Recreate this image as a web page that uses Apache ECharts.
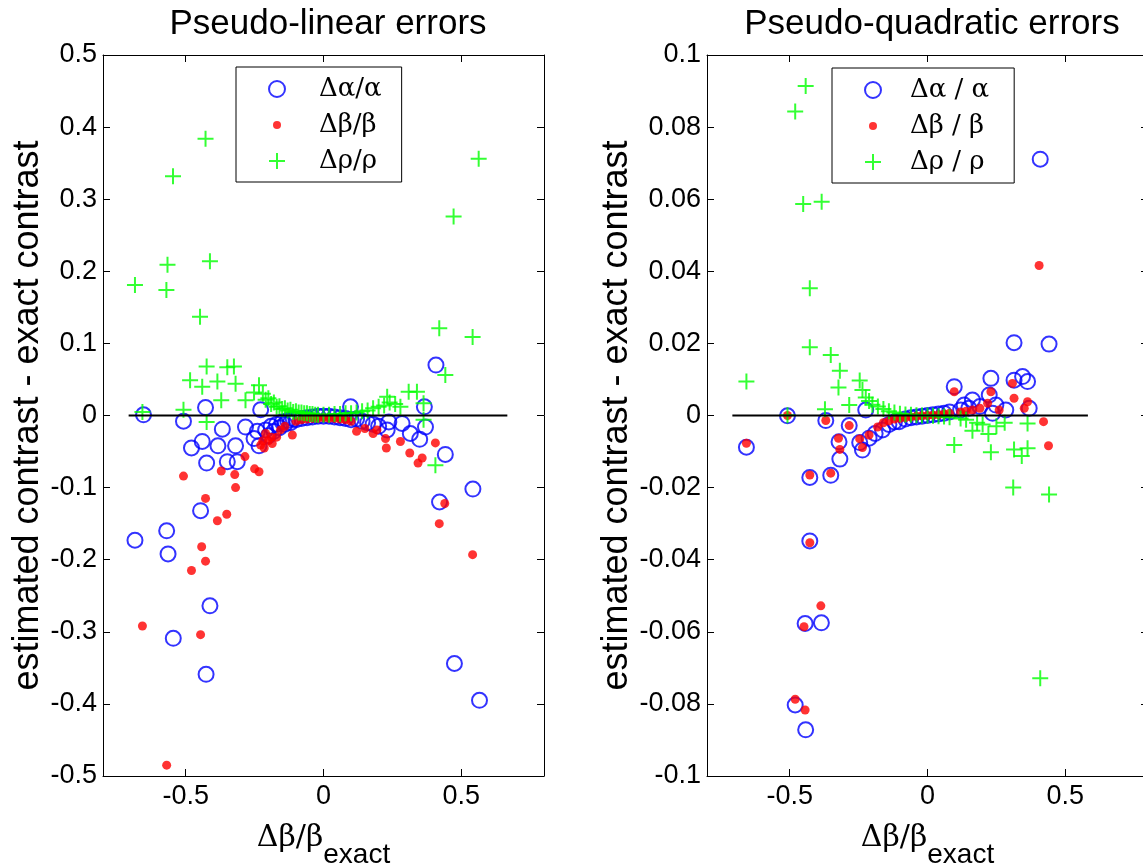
<!DOCTYPE html>
<html>
<head>
<meta charset="utf-8">
<script src="https://cdn.jsdelivr.net/npm/echarts@6/dist/echarts.min.js"></script>
<style>html,body{margin:0;padding:0;background:#fff}#c{width:1143px;height:865px}</style>
</head>
<body>
<div id="c"></div>
<script>
// ---------- data ----------
const titles = ['Pseudo-linear errors', 'Pseudo-quadratic errors'];
const yLabel = 'estimated contrast - exact contrast';
const xTicks = [-0.5, 0, 0.5];
const namesLeft = ['Δα/α', 'Δβ/β', 'Δρ/ρ'];
const namesRight = ['Δα / α', 'Δβ / β', 'Δρ / ρ'];

const leftAlpha = [[-0.684,-0.173],[-0.653,0.001],[-0.569,-0.160],[-0.564,-0.192],[-0.545,-0.309],[-0.508,-0.008],[-0.479,-0.045],[-0.446,-0.132],[-0.440,-0.036],[-0.428,0.011],[-0.426,-0.359],[-0.424,-0.066],[-0.412,-0.264],[-0.383,-0.042],[-0.367,-0.019],[-0.349,-0.064],[-0.319,-0.042],[-0.313,-0.064],[-0.283,-0.016],[-0.252,-0.032],[-0.240,-0.022],[-0.234,-0.042],[-0.228,0.008],
[-0.21,-0.020],[-0.20,-0.028],[-0.19,-0.015],[-0.18,-0.022],[-0.17,-0.012],[-0.16,-0.017],[-0.15,-0.009],[-0.14,-0.012],[-0.13,-0.007],[-0.12,-0.010],[-0.11,-0.005],[-0.10,-0.006],[-0.08,-0.004],[-0.06,-0.003],[-0.04,-0.002],[-0.02,-0.001],[0.0,-0.001],[0.02,-0.001],[0.04,-0.002],[0.06,-0.003],[0.08,-0.004],[0.10,-0.006],[0.12,-0.005],[0.14,-0.008],[0.16,-0.010],[0.18,-0.012],[0.20,-0.015],
[0.098,0.012],[0.231,-0.020],[0.237,-0.009],[0.285,-0.011],[0.315,-0.025],[0.349,-0.033],[0.366,0.012],[0.370,-0.016],[0.408,0.070],[0.421,-0.120],[0.442,-0.054],[0.475,-0.344],[0.542,-0.102],[0.566,-0.395]];

const leftBeta = [[-0.657,-0.292],[-0.569,-0.485],[-0.508,-0.084],[-0.479,-0.215],[-0.446,-0.304],[-0.442,-0.182],[-0.428,-0.202],[-0.428,-0.115],[-0.385,-0.146],[-0.371,-0.077],[-0.351,-0.137],[-0.322,-0.082],[-0.319,-0.100],[-0.285,-0.057],[-0.250,-0.074],[-0.234,-0.078],[-0.228,-0.041],[-0.220,-0.035],[-0.215,-0.045],[-0.210,-0.025],[-0.200,-0.035],[-0.190,-0.030],[-0.186,-0.039],[-0.170,-0.030],[-0.156,-0.020],[-0.140,-0.015],[-0.113,-0.027],[-0.10,-0.008],[-0.08,-0.006],[-0.06,-0.005],[-0.04,-0.004],[-0.02,-0.004],[0.0,-0.003],[0.02,-0.004],[0.04,-0.004],[0.06,-0.005],[0.08,-0.006],[0.10,-0.008],[0.12,-0.022],[0.15,-0.018],[0.18,-0.025],[0.194,-0.020],[0.225,-0.032],[0.228,-0.045],[0.279,-0.036],[0.313,-0.052],[0.343,-0.066],[0.358,-0.059],[0.406,-0.038],[0.420,-0.150],[0.440,-0.122],[0.541,-0.193]];

const leftRho = [[-0.684,0.181],[-0.657,0.005],[-0.570,0.174],[-0.566,0.209],[-0.546,0.332],[-0.508,0.008],[-0.484,0.049],[-0.448,0.137],[-0.440,0.040],[-0.428,0.384],[-0.424,0.068],[-0.424,-0.009],[-0.412,0.214],[-0.385,0.047],[-0.371,0.021],[-0.349,0.067],[-0.325,0.068],[-0.319,0.044],[-0.283,0.021],[-0.252,0.032],[-0.234,0.042],
[-0.22,0.030],[-0.21,0.022],[-0.20,0.024],[-0.19,0.016],[-0.18,0.018],[-0.17,0.012],[-0.16,0.013],[-0.15,0.009],[-0.14,0.010],[-0.13,0.007],[-0.12,0.008],[-0.11,0.005],[-0.10,0.006],[-0.09,0.004],[-0.08,0.004],[-0.07,0.003],[-0.06,0.003],[-0.05,0.002],[-0.04,0.002],[-0.03,0.001],[-0.02,0.001],[0.0,0.001],[0.02,0.001],[0.04,0.002],[0.06,0.002],[0.08,0.003],[0.10,0.003],[0.12,0.004],[0.14,0.006],[0.16,0.007],[0.18,0.010],[0.20,0.012],[0.22,0.014],[0.24,0.018],[0.26,0.016],
[0.231,0.026],[0.279,0.012],[0.309,0.033],[0.339,0.033],[0.363,0.017],[0.363,-0.006],[0.406,-0.069],[0.420,0.121],[0.442,0.056],[0.472,0.276],[0.541,0.109],[0.563,0.356]];

const rightAlpha = [[-0.657,-0.0088],[-0.508,-0.0001],[-0.480,-0.0803],[-0.444,-0.0577],[-0.442,-0.0872],[-0.427,-0.0172],[-0.427,-0.0348],[-0.385,-0.0575],[-0.369,-0.0014],[-0.351,-0.0166],[-0.321,-0.0073],[-0.318,-0.0121],[-0.284,-0.0028],[-0.246,-0.0075],[-0.236,-0.0096],[-0.224,0.0015],[-0.212,-0.0063],[-0.190,-0.0050],[-0.163,-0.0040],[-0.14,-0.0025],[-0.12,-0.0018],[-0.103,-0.0017],[-0.08,-0.0010],[-0.06,-0.0006],[-0.04,-0.0004],[-0.02,-0.0002],[0.0,0.0],[0.02,0.0002],[0.04,0.0004],[0.06,0.0006],[0.08,0.0010],[0.097,0.0080],[0.12,0.0015],[0.133,0.0029],[0.15,0.0020],[0.163,0.0043],[0.19,0.0025],[0.224,0.0057],[0.230,0.0103],[0.236,0.0006],[0.248,0.0029],[0.284,0.0015],[0.314,0.0098],[0.314,0.0202],[0.345,0.0108],[0.363,0.0094],[0.369,0.0020],[0.409,0.0711],[0.441,0.0198]];

const rightBeta = [[-0.657,-0.0077],[-0.508,0.0],[-0.480,-0.0787],[-0.448,-0.0586],[-0.444,-0.0817],[-0.427,-0.0165],[-0.427,-0.0353],[-0.387,-0.0528],[-0.369,-0.0014],[-0.351,-0.0160],[-0.323,-0.0063],[-0.318,-0.0094],[-0.284,-0.0028],[-0.246,-0.0065],[-0.236,-0.0089],[-0.212,-0.0054],[-0.181,-0.0032],[-0.16,-0.0020],[-0.14,-0.0015],[-0.12,-0.0010],[-0.10,-0.0008],[-0.08,-0.0006],[-0.06,-0.0004],[-0.04,-0.0002],[-0.02,-0.0001],[0.0,0.0],[0.02,0.0001],[0.04,0.0002],[0.06,0.0004],[0.08,0.0006],[0.097,0.0066],[0.12,0.0010],[0.14,0.0012],[0.163,0.0015],[0.19,0.0020],[0.218,0.0034],[0.230,0.0066],[0.26,0.0015],[0.308,0.0089],[0.314,0.0048],[0.351,0.0020],[0.363,0.0038],[0.405,0.0416],[0.421,-0.0017],[0.439,-0.0084]];

const rightRho = [[-0.657,0.0094],[-0.508,0.0001],[-0.480,0.0843],[-0.451,0.0587],[-0.442,0.0914],[-0.427,0.0353],[-0.427,0.0189],[-0.384,0.0593],[-0.372,0.0017],[-0.351,0.0168],[-0.323,0.0078],[-0.318,0.0124],[-0.284,0.0029],[-0.246,0.0097],[-0.236,0.0071],[-0.224,0.0050],[-0.212,0.0040],[-0.20,0.0030],[-0.18,0.0025],[-0.16,0.0018],[-0.14,0.0012],[-0.12,0.0008],[-0.10,0.0005],[-0.08,0.0003],[-0.06,0.0002],[-0.04,0.0001],[-0.02,0.0],[0.0,0.0],[0.02,-0.0001],[0.04,-0.0002],[0.06,-0.0003],[0.08,-0.0005],[0.097,-0.0082],[0.12,-0.0008],[0.14,-0.0012],[0.163,-0.0042],[0.18,-0.0020],[0.20,-0.0025],[0.221,-0.0051],[0.230,-0.0102],[0.25,-0.0030],[0.28,-0.0020],[0.311,-0.0200],[0.314,-0.0094],[0.342,-0.0112],[0.363,-0.0022],[0.363,-0.0091],[0.409,-0.0729],[0.441,-0.0219]];

const leftZero = [[-0.707,0],[0.667,0]];
const rightZero = [[-0.708,0],[0.582,0]];

// ---------- chart ----------
const chart = echarts.init(document.getElementById('c'), null, {renderer:'canvas'});
const SANS = 'Liberation Sans, Arial, sans-serif';
const GREEK = 'DejaVu Serif, serif';
const CROSS = 'path://M0,8L16,8M8,0L8,16';
const DOT_ICON = 'path://M0,0M16,16M4,8a4,4 0 1,0 8,0a4,4 0 1,0 -8,0z';

function xAxes(gi){
  return [{
    type:'value', gridIndex:gi, min:-0.8, max:0.8, position:'bottom',
    axisLine:{show:true,onZero:false,lineStyle:{color:'#000',width:1}},
    axisTick:{show:true,inside:true,length:7,customValues:xTicks,lineStyle:{color:'#000'}},
    axisLabel:{show:true,customValues:xTicks,fontFamily:SANS,fontSize:27,color:'#000',margin:7},
    splitLine:{show:false},
    name:'{a|Δβ/β}{b|exact}', nameLocation:'middle', nameGap:47,
    nameTextStyle:{rich:{a:{fontFamily:GREEK,fontSize:30,color:'#000',lineHeight:46,verticalAlign:'top'},b:{fontFamily:SANS,fontSize:28,color:'#000',lineHeight:46,verticalAlign:'bottom'}}}
  },{
    type:'value', gridIndex:gi, min:-0.8, max:0.8, position:'top',
    axisLine:{show:true,onZero:false,lineStyle:{color:'#000',width:1}},
    axisTick:{show:true,inside:true,length:7,customValues:xTicks,lineStyle:{color:'#000'}},
    axisLabel:{show:false}, splitLine:{show:false}
  }];
}
function yAxes(gi,lim,step,gap){
  return [{
    type:'value', gridIndex:gi, min:-lim, max:lim, interval:step, position:'left',
    axisLine:{show:true,onZero:false,lineStyle:{color:'#000',width:1}},
    axisTick:{show:true,inside:true,length:7,lineStyle:{color:'#000'}},
    axisLabel:{fontFamily:SANS,fontSize:27,color:'#000',margin:6},
    splitLine:{show:false},
    name:yLabel, nameLocation:'middle', nameGap:gap, nameRotate:90,
    nameTextStyle:{fontFamily:SANS,fontSize:36,color:'#000'}
  },{
    type:'value', gridIndex:gi, min:-lim, max:lim, interval:step, position:'right',
    axisLine:{show:true,onZero:false,lineStyle:{color:'#000',width:1}},
    axisTick:{show:true,inside:true,length:7,lineStyle:{color:'#000'}},
    axisLabel:{show:false}, splitLine:{show:false}
  }];
}
function scat(name,data,xi,yi,kind){
  const s = {name, type:'scatter', xAxisIndex:xi, yAxisIndex:yi, data, animation:false, silent:true};
  if(kind==='a'){ s.symbol='circle'; s.symbolSize=15; s.itemStyle={color:'rgba(0,0,0,0)',borderColor:'#0000ff',borderWidth:2}; s.z=2; }
  if(kind==='b'){ s.symbol='circle'; s.symbolSize=9; s.itemStyle={color:'#ff0000'}; s.z=3; }
  if(kind==='c'){ s.symbol=CROSS; s.symbolSize=16; s.itemStyle={color:'rgba(0,0,0,0)',borderColor:'#00ff00',borderWidth:2}; s.z=4; }
  return s;
}
function zline(data,xi,yi){
  return {type:'line', xAxisIndex:xi, yAxisIndex:yi, data, symbol:'none', lineStyle:{color:'#000',width:2.2}, z:5, animation:false, silent:true};
}
function legend(names,left,top,padR,textGap){
  return {
    orient:'vertical', left, top, data:[
      {name:names[0], icon:'circle'},
      {name:names[1], icon:DOT_ICON},
      {name:names[2], icon:CROSS}
    ],
    backgroundColor:'#fff', borderColor:'#000', borderWidth:1,
    padding:[9,padR,8,32], itemWidth:16, itemHeight:16, itemGap:10,
    selectedMode:false,
    formatter:'{t|{name}}',
    textStyle:{fontFamily:GREEK,fontSize:26,color:'#000',rich:{t:{fontFamily:GREEK,fontSize:26,color:'#000',lineHeight:31,padding:[0,0,0,textGap]}}}
  };
}

const option = {
  backgroundColor:'#fff',
  animation:false,
  title:[
    {text:titles[0], left:323, top:2, textAlign:'center', textStyle:{fontFamily:SANS,fontSize:35,fontWeight:'normal',color:'#000'}},
    {text:titles[1], left:927, top:2, textAlign:'center', textStyle:{fontFamily:SANS,fontSize:35,fontWeight:'normal',color:'#000'}}
  ],
  grid:[
    {left:103, top:55, width:441, height:721, outerBoundsMode:'none', containLabel:false},
    {left:707, top:55, width:441, height:721, outerBoundsMode:'none', containLabel:false}
  ],
  xAxis:[...xAxes(0), ...xAxes(1)],
  yAxis:[...yAxes(0,0.5,0.1,55), ...yAxes(1,0.1,0.02,72)],
  legend:[legend(namesLeft,236,67,20,29), legend(namesRight,832,68,25,24)],
  series:[
    scat(namesLeft[0],leftAlpha,0,0,'a'),
    scat(namesLeft[1],leftBeta,0,0,'b'),
    scat(namesLeft[2],leftRho,0,0,'c'),
    zline(leftZero,0,0),
    scat(namesRight[0],rightAlpha,2,2,'a'),
    scat(namesRight[1],rightBeta,2,2,'b'),
    scat(namesRight[2],rightRho,2,2,'c'),
    zline(rightZero,2,2)
  ]
};
chart.setOption(option);
</script>
</body>
</html>
